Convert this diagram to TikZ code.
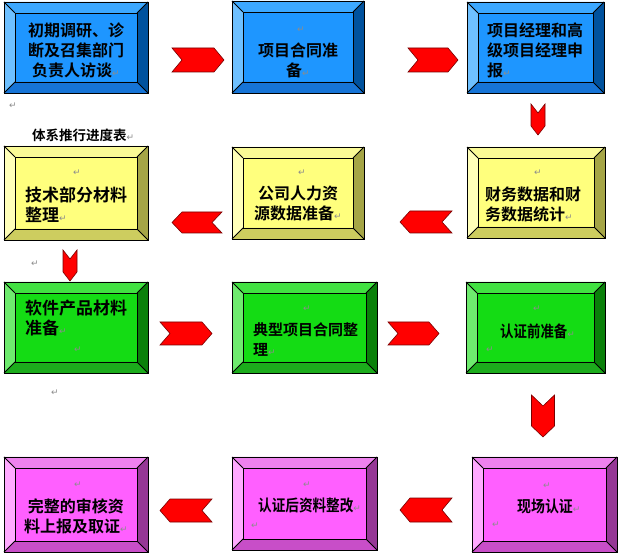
\documentclass[tikz,border=0pt]{standalone}
\usepackage{fontspec}
\newfontfamily\cjkb{Noto Sans CJK SC Bold}
\newfontfamily\dv{DejaVu Sans}
\definecolor{bface}{RGB}{30,150,255}
\definecolor{btop}{RGB}{60,168,255}
\definecolor{bleft}{RGB}{110,192,255}
\definecolor{bright}{RGB}{0,82,158}
\definecolor{bbot}{RGB}{22,116,214}
\definecolor{yface}{RGB}{255,255,125}
\definecolor{ytop}{RGB}{250,250,150}
\definecolor{yleft}{RGB}{255,255,185}
\definecolor{yright}{RGB}{165,165,70}
\definecolor{ybot}{RGB}{205,205,95}
\definecolor{gface}{RGB}{20,220,20}
\definecolor{gtop}{RGB}{65,226,65}
\definecolor{gleft}{RGB}{110,235,110}
\definecolor{gright}{RGB}{10,128,10}
\definecolor{gbot}{RGB}{28,172,28}
\definecolor{pface}{RGB}{255,95,255}
\definecolor{ptop}{RGB}{238,130,238}
\definecolor{pleft}{RGB}{255,170,255}
\definecolor{pright}{RGB}{150,55,150}
\definecolor{pbot}{RGB}{200,78,200}
\definecolor{chevred}{RGB}{255,0,0}
\definecolor{chevedge}{RGB}{120,0,0}
\definecolor{pmgray}{RGB}{140,140,140}
\newcommand\pmk{{\dv\fontsize{9}{9}\selectfont\textcolor{pmgray}{↵}}}
\newcommand\bevbox[6]{%
  \node[boxnode, minimum width={#4-#2}, minimum height={#5-#3}] (#1) at ({(#2+#4)/2},{(#3+#5)/2}) {};
  \coordinate (#1-inw) at ([shift={(11pt,-11pt)}]#1.north west);
  \coordinate (#1-ine) at ([shift={(-11pt,-11pt)}]#1.north east);
  \coordinate (#1-ise) at ([shift={(-11pt,11pt)}]#1.south east);
  \coordinate (#1-isw) at ([shift={(11pt,11pt)}]#1.south west);
  \fill[#6face] (#1-inw) rectangle (#1-ise);
  \fill[#6top] (#1.north west) -- (#1.north east) -- (#1-ine) -- (#1-inw) -- cycle;
  \fill[#6left] (#1.north west) -- (#1-inw) -- (#1-isw) -- (#1.south west) -- cycle;
  \fill[#6right] (#1.north east) -- (#1.south east) -- (#1-ise) -- (#1-ine) -- cycle;
  \fill[#6bot] (#1.south west) -- (#1-isw) -- (#1-ise) -- (#1.south east) -- cycle;
  \draw[edge] (#1.north west) rectangle (#1.south east);
  \draw[edge] (#1-inw) rectangle (#1-ise);
  \draw[edge] (#1.north west) -- (#1-inw) (#1.north east) -- (#1-ine)
              (#1.south east) -- (#1-ise) (#1.south west) -- (#1-isw);
}
% right chevron: name, cx, cy, half width, half height, notch
\newcommand\chevR[6]{%
  \coordinate (#1) at (#2,#3);
  \filldraw[chev] ([shift={(-#4,-#5)}]#1) -- ([shift={(#4-#6,-#5)}]#1) -- ([shift={(#4,0)}]#1)
    -- ([shift={(#4-#6,#5)}]#1) -- ([shift={(-#4,#5)}]#1) -- ([shift={(-#4+#6,0)}]#1) -- cycle;
}
\newcommand\chevL[6]{%
  \coordinate (#1) at (#2,#3);
  \filldraw[chev] ([shift={(#4,-#5)}]#1) -- ([shift={(-#4+#6,-#5)}]#1) -- ([shift={(-#4,0)}]#1)
    -- ([shift={(-#4+#6,#5)}]#1) -- ([shift={(#4,#5)}]#1) -- ([shift={(#4-#6,0)}]#1) -- cycle;
}
\newcommand\chevD[6]{%
  \coordinate (#1) at (#2,#3);
  \filldraw[chev] ([shift={(-#4,-#5)}]#1) -- ([shift={(0,-#5+#6)}]#1) -- ([shift={(#4,-#5)}]#1)
    -- ([shift={(#4,#5-#6)}]#1) -- ([shift={(0,#5)}]#1) -- ([shift={(-#4,#5-#6)}]#1) -- cycle;
}
\begin{document}
\begin{tikzpicture}[x=1pt,y=-1pt,
  boxnode/.style={rectangle, inner sep=0pt, outer sep=0pt},
  edge/.style={black, line width=0.8pt, line join=miter},
  chev/.style={fill=chevred, draw=chevedge, line width=0.6pt, line join=miter},
  lbl/.style={font=\cjkb\fontsize{16}{20}\selectfont, inner sep=0pt, align=left, text=black},
  lblb/.style={lbl, font=\cjkb\fontsize{17}{20}\selectfont},
  lbls/.style={lbl, font=\cjkb\fontsize{15}{20}\selectfont},
  pm/.style={font=\dv\fontsize{9}{9}\selectfont, text=pmgray, inner sep=0pt}]
\useasboundingbox (0,0) rectangle (619,553);
\fill[white] (0,0) rectangle (619,553);
% boxes
\bevbox{b1}{4}{2}{148}{93}{b}
\bevbox{b2}{232}{1}{364}{93}{b}
\bevbox{b3}{467}{2}{604}{93}{b}
\bevbox{b4}{467}{147}{605}{238}{y}
\bevbox{b5}{232}{147}{364}{239}{y}
\bevbox{b6}{4}{146}{148}{240}{y}
\bevbox{b7}{4}{282}{148}{373}{g}
\bevbox{b8}{232}{282}{377}{373}{g}
\bevbox{b9}{466}{282}{605}{373}{g}
\bevbox{b10}{472}{457}{617}{552}{p}
\bevbox{b11}{232}{457}{377}{550}{p}
\bevbox{b12}{4}{457}{148}{552}{p}
% chevron arrows
\chevR{a1}{198}{60}{26}{12}{10}
\chevR{a2}{433}{60}{25}{12}{10}
\chevD{a3}{538}{119.5}{7}{15.5}{9}
\chevL{a4}{426}{222}{26}{11}{10}
\chevL{a5}{197}{222.5}{25}{10.5}{10}
\chevD{a6}{70}{265.5}{7}{15.5}{9}
\chevR{a7}{186}{333.5}{26}{11.5}{10}
\chevR{a8}{413.5}{333.5}{25.5}{11.5}{10}
\chevD{a9}{543}{416}{11.5}{21}{11}
\chevL{a10}{426}{510}{26}{12}{10}
\chevL{a11}{186}{510.5}{26}{11.5}{10}
% texts
\node[lbl, align=center] (t1) at (76,50) {初期调研、诊\\断及召集部门\\负责人访谈\pmk};
\node[pm] (p2) at (301,30) {↵};
\node[lbl, align=center] (t2) at (298,60) {项目合同准\\备\pmk};
\node[lbl, anchor=west] (t3) at (487,50) {项目经理和高\\级项目经理申\\报\pmk};
\node[pm] (p4) at (538,173) {↵};
\node[lbl, anchor=west] (t4) at (485,204) {财务数据和财\\务数据统计\pmk};
\node[pm] (p5) at (302,173) {↵};
\node[lbl, align=center] (t5) at (298,203) {公司人力资\\源数据准备\pmk};
\node[pm] (p6) at (77,173) {↵};
\node[lblb, anchor=west] (t6) at (25,205) {技术部分材料\\整理\pmk};
\node[lblb, anchor=west] (t7) at (25,318.5) {软件产品材料\\准备\pmk};
\node[pm] (p7) at (78,350) {↵};
\node[pm] (p8) at (307,309) {↵};
\node[lbls, anchor=west] (t8) at (253,340) {典型项目合同整\\理\pmk};
\node[pm] (p9) at (537,309) {↵};
\node[lbl, anchor=west] (t9) at (500,331) {\scalebox{0.84}[1]{认证前准备}\pmk};
\node[pm] (p9b) at (490,350) {↵};
\node[pm] (p10) at (547,486) {↵};
\node[lbl, anchor=west] (t10) at (517,506) {\scalebox{0.87}[1]{现场认证}\pmk};
\node[pm] (p10b) at (496,525) {↵};
\node[pm] (p11) at (307,485) {↵};
\node[lbl, anchor=west] (t11) at (258,505) {\scalebox{0.85}[1]{认证后资料整改}\pmk};
\node[pm] (p11b) at (255,526) {↵};
\node[pm] (p12) at (78,485) {↵};
\node[lbl, align=center] (t12) at (76,516) {完整的审核资\\料上报及取证\pmk};
\node[lbl, anchor=west, font=\cjkb\fontsize{13.5}{16}\selectfont] (title) at (32,135) {体系推行进度表\pmk};
\node[pm] (q1) at (13,106) {↵};
\node[pm] (q2) at (35,264) {↵};
\node[pm] (q3) at (55,393) {↵};
\end{tikzpicture}
\end{document}
